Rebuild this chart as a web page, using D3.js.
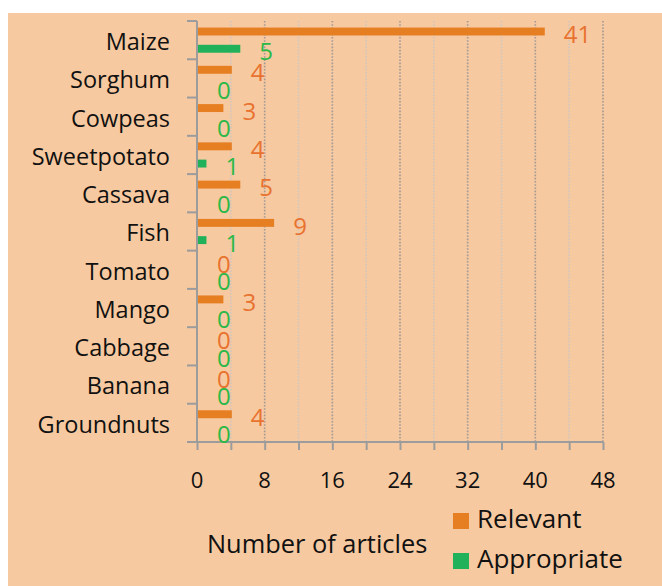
<!DOCTYPE html>
<html>
<head>
<meta charset="utf-8">
<script src="https://cdn.jsdelivr.net/npm/d3@7"></script>
<style>
  body { margin: 0; background: #fff; }
  text { font-family: "Open Sans", sans-serif; }
</style>
</head>
<body>
<div class="chart-container1"></div>
<script>
// data
const crops = ['Maize', 'Sorghum', 'Cowpeas', 'Sweetpotato', 'Cassava', 'Fish',
  'Tomato', 'Mango', 'Cabbage', 'Banana', 'Groundnuts']
const relevant = [41, 4, 3, 4, 5, 9, 0, 3, 0, 0, 4]
const appropriate = [5, 0, 0, 1, 0, 1, 0, 0, 0, 0, 0]
const seriesNames = ['Relevant', 'Appropriate']
const xTicks = [0, 8, 16, 24, 32, 40, 48]

const colors = {Relevant: '#e67e22', Appropriate: '#21b15a'}
const labelColors = {Relevant: '#e8722f', Appropriate: '#2cb848'}

// initialization
var width = 662, height = 586
var plot = {left: 197, right: 603, top: 21, bottom: 442}

const svg = d3.select('.chart-container1')
    .append('svg')
    .attr('width', width)
    .attr('height', height)

svg.append('rect')
    .attr('x', 8)
    .attr('y', 13)
    .attr('width', width - 8)
    .attr('height', height - 13)
    .attr('fill', '#f7c9a0')

const xScale = d3.scaleLinear()
    .domain([0, 48])
    .range([plot.left, plot.right])

const yScale = d3.scaleBand()
    .domain(crops)
    .range([plot.top, plot.bottom])

const inner = d3.scaleBand()
    .domain(seriesNames)
    .range([0, yScale.bandwidth()])
    .paddingInner(0.54)
    .paddingOuter(0.38)

// gridlines, every 4 units, darker at the labelled ones
svg.append('g')
    .selectAll('line')
    .data(d3.range(4, 49, 4))
    .enter()
    .append('line')
    .attr('x1', d => xScale(d))
    .attr('x2', d => xScale(d))
    .attr('y1', plot.top)
    .attr('y2', plot.bottom)
    .attr('stroke', d => d % 8 === 0 ? '#a09a96' : '#cfc6c0')
    .attr('stroke-width', 1.6)
    .attr('stroke-dasharray', '1.6,1.6')

// x axis
const xAxis = g => g
    .attr('transform', `translate(0,${plot.bottom})`)
    .call(d3.axisBottom(xScale).tickValues(d3.range(0, 49, 4)).tickSize(8).tickFormat(''))
    .call(g => g.select('.domain').remove())
    .call(g => g.selectAll('.tick line').attr('stroke', '#9c9c9c').attr('stroke-width', 2))
    .call(g => g.append('line')
        .attr('x1', plot.left - 10)
        .attr('x2', plot.right)
        .attr('stroke', '#9c9c9c')
        .attr('stroke-width', 2))

svg.append('g').call(xAxis)

svg.append('g')
    .selectAll('text')
    .data(xTicks)
    .enter()
    .append('text')
    .attr('x', d => xScale(d))
    .attr('y', 488)
    .attr('text-anchor', 'middle')
    .attr('font-size', 22)
    .attr('fill', '#111')
    .text(d => d)

// y axis
const yAxis = g => g
    .attr('transform', `translate(${plot.left},0)`)
    .call(d3.axisLeft(yScale).tickSize(0).tickPadding(27))
    .call(g => g.select('.domain').remove())
    .call(g => g.selectAll('.tick text')
        .attr('font-size', 23.5)
        .attr('font-family', '"Open Sans", sans-serif')
        .attr('fill', '#111')
        .attr('dy', '0.42em'))

svg.append('g').call(yAxis)

const bounds = crops.map(c => yScale(c)).concat([plot.bottom])
svg.append('g')
    .selectAll('line')
    .data(bounds)
    .enter()
    .append('line')
    .attr('x1', plot.left - 10)
    .attr('x2', plot.left)
    .attr('y1', d => d)
    .attr('y2', d => d)
    .attr('stroke', '#9c9c9c')
    .attr('stroke-width', 2)

svg.append('line')
    .attr('x1', plot.left)
    .attr('x2', plot.left)
    .attr('y1', plot.top)
    .attr('y2', plot.bottom)
    .attr('stroke', '#9c9c9c')
    .attr('stroke-width', 2)

// bars
const rows = []
crops.forEach((c, i) => {
    rows.push({crop: c, series: 'Relevant', value: relevant[i]})
    rows.push({crop: c, series: 'Appropriate', value: appropriate[i]})
})

const bars = svg.append('g')
    .selectAll('g')
    .data(rows)
    .enter()
    .append('g')
    .attr('transform', d => `translate(0,${yScale(d.crop) + inner(d.series)})`)

bars.append('rect')
    .attr('x', xScale(0) + 1)
    .attr('y', 0)
    .attr('width', d => Math.max(0, xScale(d.value) - xScale(0)))
    .attr('height', inner.bandwidth())
    .attr('fill', d => colors[d.series])

bars.append('text')
    .attr('x', d => xScale(d.value) + 20)
    .attr('y', inner.bandwidth() / 2 + 3)
    .attr('dy', '0.36em')
    .attr('font-size', 24)
    .attr('fill', d => labelColors[d.series])
    .text(d => d.value)

// axis title
svg.append('text')
    .attr('x', 207)
    .attr('y', 553)
    .attr('font-size', 25.4)
    .attr('fill', '#111')
    .text('Number of articles')

// legend
const legend = svg.append('g')
    .selectAll('g')
    .data(seriesNames)
    .enter()
    .append('g')
    .attr('transform', (d, i) => `translate(453,${513 + i * 40})`)

legend.append('rect')
    .attr('width', 16)
    .attr('height', 16)
    .attr('fill', d => colors[d])

legend.append('text')
    .attr('x', 24)
    .attr('y', 15)
    .attr('font-size', 26)
    .attr('fill', '#111')
    .text(d => d)
</script>
</body>
</html>
